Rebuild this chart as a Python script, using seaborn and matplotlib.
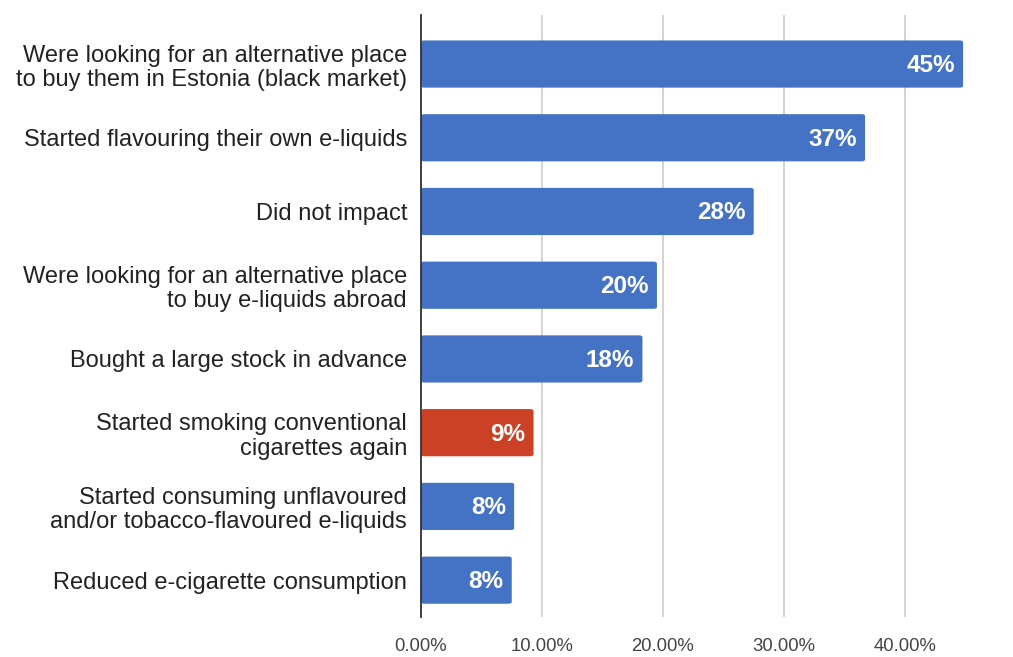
import matplotlib
matplotlib.use("Agg")
import matplotlib.pyplot as plt
import seaborn as sns
import pandas as pd
from matplotlib.patches import FancyBboxPatch

categories = [
    "Were looking for an alternative place\nto buy them in Estonia (black market)",
    "Started flavouring their own e-liquids",
    "Did not impact",
    "Were looking for an alternative place\nto buy e-liquids abroad",
    "Bought a large stock in advance",
    "Started smoking conventional\ncigarettes again",
    "Started consuming unflavoured\nand/or tobacco-flavoured e-liquids",
    "Reduced e-cigarette consumption",
]
shares = [44.8, 36.7, 27.5, 19.5, 18.3, 9.3, 7.7, 7.5]
highlight = [False, False, False, False, False, True, False, False]
tick_values = [0, 10, 20, 30, 40]
tick_labels = ["0.00%", "10.00%", "20.00%", "30.00%", "40.00%"]

BLUE = "#4472C4"
RED = "#CC4125"

sns.set_theme(style="white")
plt.rcParams["font.family"] = ["Liberation Sans", "DejaVu Sans"]

df = pd.DataFrame({"category": categories, "share": shares,
                   "group": ["hi" if h else "base" for h in highlight]})

fig = plt.figure(figsize=(10.13, 6.57), dpi=100)
ax = fig.add_axes([421 / 1013, 40 / 657, 1 - 421 / 1013, 602 / 657])

sns.barplot(data=df, x="share", y="category", hue="group",
            palette={"base": BLUE, "hi": RED}, order=categories,
            dodge=False, width=0.64, legend=False, ax=ax, saturation=1)

# swap the plain rectangles for slightly rounded ones
for patch in list(ax.patches):
    if patch.get_width() <= 0:
        patch.remove()
        continue
    x, y = patch.get_xy()
    w, h = patch.get_width(), patch.get_height()
    rounded = FancyBboxPatch((x, y), w, h,
                             boxstyle="round,pad=0,rounding_size=0.25",
                             mutation_aspect=h / 0.25 * 0.04,
                             facecolor=patch.get_facecolor(),
                             edgecolor="none", zorder=3)
    patch.remove()
    ax.add_patch(rounded)

for i, v in enumerate(shares):
    ax.annotate(f"{round(v):.0f}%", xy=(v, i), xytext=(-6, -1),
                textcoords="offset points", ha="right", va="center",
                color="white", fontsize=17.5, fontweight="bold", zorder=4)

ax.set_xlim(0, (1013 - 421) / 12.1)
ax.set_ylim(7.5, -0.665)
ax.set_xticks(tick_values)
ax.set_xticklabels(tick_labels)
ax.set_xlabel("")
ax.set_ylabel("")
ax.xaxis.grid(True, color="#cccccc", linewidth=1.2, zorder=0)
ax.set_axisbelow(True)
for side in ["top", "right", "bottom"]:
    ax.spines[side].set_visible(False)
ax.spines["left"].set_color("#333333")
ax.spines["left"].set_linewidth(1.3)
ax.spines["left"].set_zorder(5)
ax.tick_params(axis="x", length=0, pad=15, labelsize=13.3, labelcolor="#444444")
ax.tick_params(axis="y", length=0, pad=10, labelsize=17.0, labelcolor="#222222")
for lbl in ax.get_yticklabels():
    lbl.set_horizontalalignment("right")
    lbl.set_multialignment("right")
    lbl.set_linespacing(1.15)

fig.savefig("out.png", dpi=100)
